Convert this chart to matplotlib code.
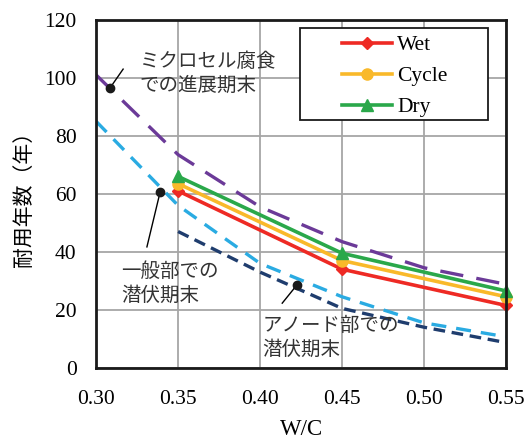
import matplotlib.pyplot as plt
from matplotlib.patches import Rectangle

plt.rcParams['font.family'] = ['Liberation Serif', 'Noto Sans CJK JP']

# W/C ratios and service life (years)
wc = [0.35, 0.45, 0.55]
wet = [61, 34, 21.5]
cycle = [63.5, 37, 24.5]
dry = [66, 39.5, 26.5]

# limit curves
wc_micro = [0.30, 0.35, 0.40, 0.45, 0.50, 0.55]
micro = [101, 73.5, 55.5, 43.5, 34.5, 28.8]
wc_general = [0.30, 0.35, 0.40, 0.45, 0.50, 0.55]
general = [85, 56, 36, 24.5, 15.5, 10.7]
wc_anode = [0.35, 0.40, 0.45, 0.50, 0.55]
anode = [47, 33, 20.5, 14, 8.7]

fig = plt.figure(figsize=(5.25, 4.4), dpi=100)
ax = fig.add_axes([0.183, 0.164, 0.781, 0.791])

ax.plot(wc_micro, micro, color='#6B3A98', lw=2.4, dashes=(7, 4))
ax.plot(wc_general, general, color='#2AABE2', lw=2.4, dashes=(4.5, 3))
ax.plot(wc_anode, anode, color='#1F3D6E', lw=2.4, dashes=(3.5, 2))

ax.plot(wc, wet, color='#EE2A24', lw=2.6, marker='D', ms=6, label='Wet', clip_on=False)
ax.plot(wc, cycle, color='#F9B92A', lw=2.6, marker='o', ms=8, label='Cycle', clip_on=False)
ax.plot(wc, dry, color='#2AA84A', lw=2.6, marker='^', ms=9, label='Dry', clip_on=False)

# annotation dots with leader lines
txt = '#333333'
ax.plot([0.3085, 0.3165], [96.5, 103], color='black', lw=1)
ax.plot(0.3085, 96.5, 'o', color='#1a1a1a', ms=6)
ax.text(0.3265, 101.5, 'ミクロセル腐食\nでの進展期末', fontsize=14, color=txt,
        va='center', ha='left', linespacing=1.35)

ax.plot([0.339, 0.331], [60.5, 41.7], color='black', lw=1)
ax.plot(0.339, 60.5, 'o', color='#1a1a1a', ms=6)
ax.text(0.3155, 29, '一般部での\n潜伏期末', fontsize=14, color=txt,
        va='center', ha='left', linespacing=1.35)

ax.plot([0.4225, 0.4135], [28.6, 22.3], color='black', lw=1)
ax.plot(0.4225, 28.6, 'o', color='#1a1a1a', ms=6)
ax.text(0.4015, 10.3, 'アノード部での\n潜伏期末', fontsize=14, color=txt,
        va='center', ha='left', linespacing=1.4)

ax.set_xlim(0.30, 0.55)
ax.set_ylim(0, 120)
ax.set_xticks([0.30, 0.35, 0.40, 0.45, 0.50, 0.55])
ax.set_xticklabels(['0.30', '0.35', '0.40', '0.45', '0.50', '0.55'])
ax.set_yticks(range(0, 121, 20))
ax.grid(True, color='#A6A6A6', lw=1.3)
ax.set_axisbelow(True)
ax.tick_params(labelsize=15.5, length=0, colors='black')
ax.tick_params(axis='x', pad=16)
ax.tick_params(axis='y', pad=14)
for s in ax.spines.values():
    s.set_linewidth(2)
    s.set_color('#1a1a1a')

ax.set_xlabel('W/C', fontsize=16.5, labelpad=7)
ax.set_ylabel('耐用年数（年）', fontsize=15, labelpad=7)

# legend box drawn wider than its entries
ax.add_patch(Rectangle((0.4976, 0.7126), 0.4585, 0.2644, transform=ax.transAxes,
                       facecolor='white', edgecolor='#1a1a1a', lw=1.3, zorder=4))
leg = ax.legend(loc='upper left', bbox_to_anchor=(0.585, 0.974), fontsize=15.5,
                frameon=False, handlelength=2.3, handletextpad=0.25,
                borderpad=0.3, labelspacing=0.5, borderaxespad=0)
leg.set_zorder(5)

fig.savefig('out.png', dpi=100)
